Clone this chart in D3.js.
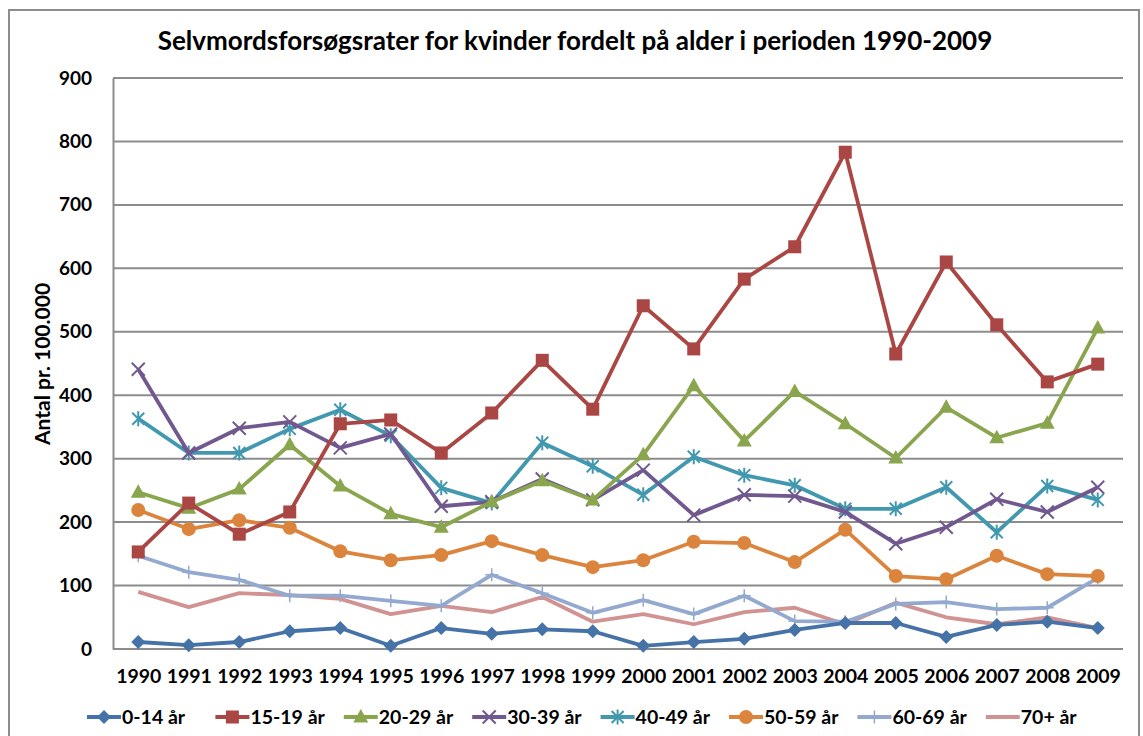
<!DOCTYPE html>
<html>
<head>
<meta charset="utf-8">
<script src="https://cdn.jsdelivr.net/npm/d3@7"></script>
<style>
  body { margin: 0; background: #fff; }
  text { font-family: Lato, "Open Sans", sans-serif; font-weight: bold; fill: #000; }
</style>
</head>
<body>
<svg id="chart" width="1143" height="736"></svg>
<script>
var years = ['1990','1991','1992','1993','1994','1995','1996','1997','1998','1999',
             '2000','2001','2002','2003','2004','2005','2006','2007','2008','2009'];
var yTicks = [0, 100, 200, 300, 400, 500, 600, 700, 800, 900];

var age0_14  = [11, 6, 11, 28, 33, 5, 33, 24, 31, 28, 5, 11, 16, 30, 41, 41, 19, 38, 43, 33];
var age15_19 = [153, 230, 181, 216, 355, 361, 309, 372, 455, 378, 541, 473, 583, 634, 783, 465, 610, 511, 421, 449];
var age20_29 = [247, 222, 252, 322, 257, 213, 192, 232, 265, 235, 306, 415, 328, 406, 355, 301, 381, 333, 356, 506];
var age30_39 = [441, 309, 348, 358, 317, 339, 225, 232, 268, 235, 282, 211, 243, 241, 216, 166, 192, 236, 216, 255];
var age40_49 = [363, 309, 309, 347, 377, 336, 254, 230, 325, 288, 243, 303, 274, 258, 221, 221, 255, 184, 257, 235];
var age50_59 = [219, 189, 203, 191, 154, 140, 148, 170, 148, 129, 140, 169, 167, 137, 188, 115, 110, 147, 118, 115];
var age60_69 = [147, 121, 109, 84, 84, 76, 68, 117, 88, 57, 77, 55, 84, 44, 43, 71, 74, 63, 65, 112];
var age70p   = [90, 66, 88, 85, 79, 55, 68, 58, 82, 43, 55, 39, 58, 65, 39, 73, 50, 39, 50, 33];

var series = [
  { name: '0-14 år',  values: age0_14,  color: '#4572A7', marker: 'diamond' },
  { name: '15-19 år', values: age15_19, color: '#AA4643', marker: 'square' },
  { name: '20-29 år', values: age20_29, color: '#89A54E', marker: 'triangle' },
  { name: '30-39 år', values: age30_39, color: '#71588F', marker: 'x' },
  { name: '40-49 år', values: age40_49, color: '#4198AF', marker: 'star' },
  { name: '50-59 år', values: age50_59, color: '#DB843D', marker: 'circle' },
  { name: '60-69 år', values: age60_69, color: '#93A9CF', marker: 'plus' },
  { name: '70+ år',   values: age70p,   color: '#D19392', marker: 'none' }
];

var svg = d3.select('#chart');
var plotLeft = 113, plotRight = 1123, plotTop = 78, plotBottom = 649;

var x = d3.scalePoint().domain(years).range([plotLeft, plotRight]).padding(0.5);
var y = d3.scaleLinear().domain([0, 900]).range([plotBottom, plotTop]);

// outer frame
svg.append('rect')
  .attr('x', 9).attr('y', 10)
  .attr('width', 1130).attr('height', 740)
  .style('fill', 'none').style('stroke', '#8c8c8c').style('stroke-width', 2);

// title
svg.append('text')
  .attr('x', 575).attr('y', 50)
  .attr('text-anchor', 'middle')
  .style('font-size', '26px')
  .text('Selvmordsforsøgsrater for kvinder fordelt på alder i perioden 1990-2009');

// gridlines
svg.append('g').selectAll('line')
  .data(yTicks.slice(1))
  .enter().append('line')
  .attr('x1', plotLeft).attr('x2', plotRight)
  .attr('y1', function(d) { return y(d); })
  .attr('y2', function(d) { return y(d); })
  .style('stroke', '#8c8c8c').style('stroke-width', 2);

// y axis
var yAxis = svg.append('g')
  .attr('transform', 'translate(' + plotLeft + ',0)')
  .call(d3.axisLeft(y).tickValues(yTicks).tickSize(0).tickPadding(21));
yAxis.select('.domain').style('stroke', '#8c8c8c').style('stroke-width', 2);
yAxis.selectAll('text').style('font-size', '19px').style('font-family', 'Lato, sans-serif');

// x axis
var xAxis = svg.append('g')
  .attr('transform', 'translate(0,' + plotBottom + ')')
  .call(d3.axisBottom(x).tickSize(0).tickPadding(20));
xAxis.select('.domain').attr('d', 'M' + plotLeft + ',0H' + plotRight)
  .style('stroke', '#8c8c8c').style('stroke-width', 2);
xAxis.selectAll('text').style('font-size', '19.5px').style('font-family', 'Lato, sans-serif');

// y axis title
svg.append('text')
  .attr('transform', 'translate(50,' + 364 + ') rotate(-90)')
  .attr('text-anchor', 'middle')
  .style('font-size', '21px')
  .text('Antal pr. 100.000');

function drawMarker(g, type, color) {
  if (type === 'diamond') {
    g.append('path').attr('d', 'M0,-7L7,0L0,7L-7,0Z').style('fill', color);
  } else if (type === 'square') {
    g.append('rect').attr('x', -6.5).attr('y', -6.5).attr('width', 13).attr('height', 13).style('fill', color);
  } else if (type === 'triangle') {
    g.append('path').attr('d', 'M0,-8L7.5,5.5L-7.5,5.5Z').style('fill', color);
  } else if (type === 'x') {
    g.append('path').attr('d', 'M-6.5,-6.5L6.5,6.5M-6.5,6.5L6.5,-6.5')
      .style('stroke', color).style('stroke-width', 2).style('fill', 'none');
  } else if (type === 'star') {
    g.append('path').attr('d', 'M-6,-6L6,6M-6,6L6,-6M0,-7.5L0,7.5')
      .style('stroke', color).style('stroke-width', 2).style('fill', 'none');
  } else if (type === 'circle') {
    g.append('circle').attr('r', 7).style('fill', color);
  } else if (type === 'plus') {
    g.append('path').attr('d', 'M-6.5,0L6.5,0M0,-6.5L0,6.5')
      .style('stroke', color).style('stroke-width', 1.5).style('fill', 'none');
  }
}

var line = d3.line()
  .x(function(d, i) { return x(years[i]); })
  .y(function(d) { return y(d); });

// draw series back to front so first series sit on top like excel
series.slice().reverse().forEach(function(s) {
  var g = svg.append('g');
  g.append('path')
    .datum(s.values)
    .attr('d', line)
    .style('fill', 'none')
    .style('stroke', s.color)
    .style('stroke-width', 3.8)
    .style('stroke-linejoin', 'round');
  s.values.forEach(function(v, i) {
    var m = g.append('g').attr('transform', 'translate(' + x(years[i]) + ',' + y(v) + ')');
    drawMarker(m, s.marker, s.color);
  });
});

// legend
var legend = svg.append('g').attr('transform', 'translate(87,717)');
series.forEach(function(s, i) {
  var item = legend.append('g').attr('transform', 'translate(' + (i * 128.4) + ',0)');
  item.append('line')
    .attr('x1', 0).attr('x2', 34).attr('y1', 0).attr('y2', 0)
    .style('stroke', s.color).style('stroke-width', 3.8);
  var m = item.append('g').attr('transform', 'translate(17,0)');
  drawMarker(m, s.marker, s.color);
  item.append('text')
    .attr('x', 35).attr('y', 7)
    .style('font-size', '19.5px')
    .text(s.name);
});
</script>
</body>
</html>
